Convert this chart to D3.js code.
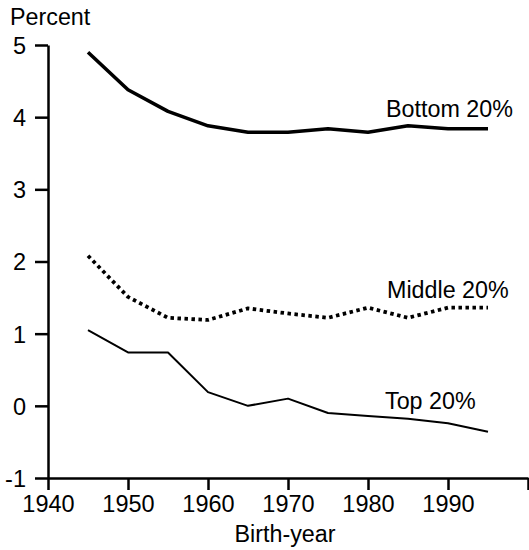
<!DOCTYPE html>
<html>
<head>
<meta charset="utf-8">
<script src="https://cdn.jsdelivr.net/npm/d3@7"></script>
<style>
  body { margin: 0; background: #fff; }
  text { font-family: "Liberation Sans", Arial, sans-serif; fill: #000; }
</style>
</head>
<body>
<svg id="chart" width="529" height="550"></svg>
<script>
// birth-year cohorts, 5-year steps
const years = [1945, 1950, 1955, 1960, 1965, 1970, 1975, 1980, 1985, 1990, 1995];
const bottom20 = [4.9, 4.38, 4.08, 3.88, 3.79, 3.79, 3.84, 3.79, 3.88, 3.84, 3.84];
const middle20 = [2.08, 1.51, 1.22, 1.19, 1.35, 1.28, 1.22, 1.36, 1.22, 1.36, 1.36];
const top20 = [1.05, 0.74, 0.74, 0.19, 0.0, 0.1, -0.1, -0.14, -0.18, -0.24, -0.36];
const xTicks = [1940, 1950, 1960, 1970, 1980, 1990, 2000];
const yTicks = [-1, 0, 1, 2, 3, 4, 5];

const series = [
  { name: 'Bottom 20%', values: bottom20, width: 3.6, dash: null, lx: 386, ly: 117 },
  { name: 'Middle 20%', values: middle20, width: 3.8, dash: '3.5,3.5', lx: 387, ly: 298 },
  { name: 'Top 20%', values: top20, width: 2, dash: null, lx: 385, ly: 409 }
];

const svg = d3.select('#chart');
const x = d3.scaleLinear().domain([1940, 2000]).range([48, 528]);
const y = d3.scaleLinear().domain([-1, 5]).range([478, 45]);

// y axis
const yAxis = svg.append('g')
  .attr('transform', 'translate(48,0)')
  .call(d3.axisLeft(y).tickValues(yTicks).tickSize(13).tickSizeOuter(0).tickPadding(9)
    .tickFormat(d => String(d)));
// x axis
const xAxis = svg.append('g')
  .attr('transform', 'translate(0,478)')
  .call(d3.axisBottom(x).tickValues(xTicks).tickSize(12).tickSizeOuter(0).tickPadding(5)
    .tickFormat(d => d === 2000 ? '' : d));

[yAxis, xAxis].forEach(a => {
  a.attr('font-size', null).attr('font-family', null);
  a.select('.domain').attr('stroke', '#000').attr('stroke-width', 2.5);
  a.selectAll('.tick line').attr('stroke', '#000').attr('stroke-width', 2.5);
  a.selectAll('.tick text').style('font-size', '23.5px').attr('fill', '#000');
});
yAxis.selectAll('.tick text').attr('dy', '0.36em');

const line = d3.line()
  .x((d, i) => x(years[i]))
  .y(d => y(d));

series.forEach(s => {
  svg.append('path')
    .datum(s.values)
    .attr('d', line)
    .attr('fill', 'none')
    .attr('stroke', '#000')
    .attr('stroke-width', s.width)
    .attr('stroke-dasharray', s.dash)
    .attr('stroke-linejoin', 'round');
  svg.append('text')
    .attr('x', s.lx).attr('y', s.ly)
    .style('font-size', '23.3px')
    .text(s.name);
});

svg.append('text').attr('x', 10).attr('y', 25).style('font-size', '23.3px').text('Percent');
svg.append('text').attr('x', 285).attr('y', 542).attr('text-anchor', 'middle')
  .style('font-size', '23.3px').text('Birth-year');
</script>
</body>
</html>
